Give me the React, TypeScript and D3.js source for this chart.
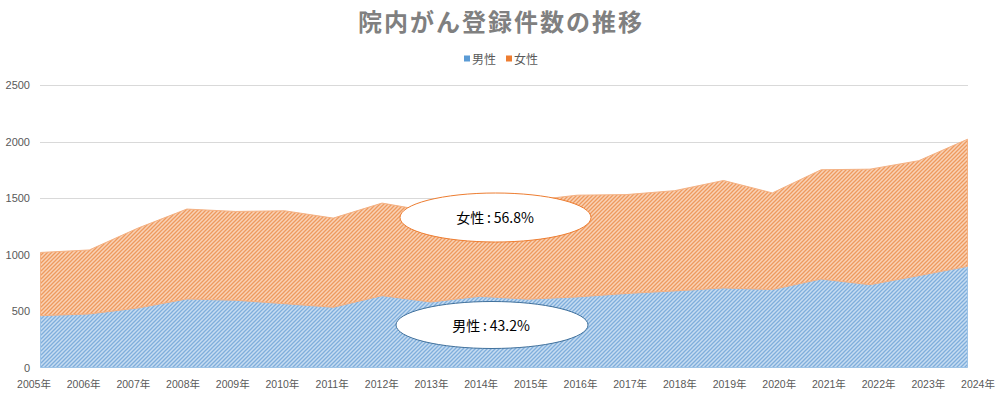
import React from "react";
import * as d3 from "d3";

const years = ["2005年","2006年","2007年","2008年","2009年","2010年","2011年","2012年","2013年","2014年","2015年","2016年","2017年","2018年","2019年","2020年","2021年","2022年","2023年","2024年"];
const male = [459, 474, 527, 607, 595, 565, 533, 636, 580, 630, 605, 625, 655, 678, 704, 690, 783, 733, 813, 895];
const female = [559, 566, 707, 795, 786, 822, 789, 819, 800, 800, 870, 900, 875, 887, 951, 855, 967, 1022, 1017, 1125];
const yTicks = [0, 500, 1000, 1500, 2000, 2500];
const seriesNames = ["男性", "女性"];
const title = "院内がん登録件数の推移";
const calloutFemale = "女性\u2009:\u200956.8%";
const calloutMale = "男性\u2009:\u200943.2%";

const W = 1003, H = 399;
const FONT = "'Noto Sans CJK JP', 'Noto Sans', sans-serif";
const NUMFONT = "'Liberation Sans', 'Noto Sans CJK JP', sans-serif";

export default function App() {
  const x = d3.scalePoint<string>().domain(years).range([40.5, 967.5]);
  const xLab = d3.scalePoint<string>().domain(years).range([34, 978]);
  const y = d3.scaleLinear().domain([0, 2500]).range([367.5, 85]);
  const rows = years.map((yr, i) => ({ year: yr, m: male[i], f: female[i] }));
  const stack = d3.stack<any>().keys(["m", "f"])(rows);
  const area = d3.area<any>()
    .x((d) => x(d.data.year) as number)
    .y0((d) => y(d[0]))
    .y1((d) => y(d[1]));
  const fills = ["url(#hatchBlue)", "url(#hatchOrange)"];
  const strokes = ["#9DC3E6", "#F4B183"];
  const legendColors = ["#5B9BD5", "#ED7D31"];

  return (
    <svg width={W} height={H} style={{ position: "absolute", left: 0, top: 0, background: "#fff" }}>
      <defs>
        <pattern id="hatchBlue" patternUnits="userSpaceOnUse" width="4" height="4">
          <rect width="4" height="4" fill="#C6DCF1" />
          <path d="M-1,1 l2,-2 M0,4 l4,-4 M3,5 l2,-2" stroke="#7FAEDC" strokeWidth="1.3" />
        </pattern>
        <pattern id="hatchOrange" patternUnits="userSpaceOnUse" width="4" height="4">
          <rect width="4" height="4" fill="#F9D2B6" />
          <path d="M-1,1 l2,-2 M0,4 l4,-4 M3,5 l2,-2" stroke="#EE9A5E" strokeWidth="1.3" />
        </pattern>
      </defs>
      <rect width={W} height={H} fill="#fff" />
      <text x={501} y={31} textAnchor="middle" fontFamily={FONT} fontSize={24} fontWeight={700} fill="#808080" letterSpacing={2}>{title}</text>
      {seriesNames.map((n, i) => (
        <g key={n} transform={`translate(${i === 0 ? 464 : 506},0)`}>
          <rect x={0} y={55.5} width={6} height={6} fill={legendColors[i]} />
          <text x={8} y={63.5} fontFamily={FONT} fontSize={12} fill="#595959">{n}</text>
        </g>
      ))}
      {yTicks.filter((t) => t > 0).map((t) => (
        <line key={t} x1={40} x2={968} y1={Math.round(y(t)) + 0.5} y2={Math.round(y(t)) + 0.5} stroke="#D9D9D9" strokeWidth={1} />
      ))}
      {yTicks.map((t) => (
        <text key={t} x={30} y={y(t) + 4} textAnchor="end" fontFamily={NUMFONT} fontSize={11} fill="#595959">{t}</text>
      ))}
      {stack.map((s, i) => (
        <path key={i} d={area(s) as string} fill={fills[i]} stroke={strokes[i]} strokeWidth={1} />
      ))}
      {years.map((yr) => (
        <text key={yr} x={xLab(yr)} y={388} textAnchor="middle" fontFamily={NUMFONT} fontSize={10.5} fill="#595959" letterSpacing={0}>{yr}</text>
      ))}
      <ellipse cx={495.5} cy={217.5} rx={95.5} ry={24.5} fill="#fff" stroke="#ED7D31" strokeWidth={1} />
      <text x={495} y={223} textAnchor="middle" fontFamily={FONT} fontSize={14} fill="#000">{calloutFemale}</text>
      <ellipse cx={492} cy={325} rx={96} ry={23.5} fill="#fff" stroke="#41719C" strokeWidth={1} />
      <text x={491} y={330.5} textAnchor="middle" fontFamily={FONT} fontSize={14} fill="#000">{calloutMale}</text>
    </svg>
  );
}
